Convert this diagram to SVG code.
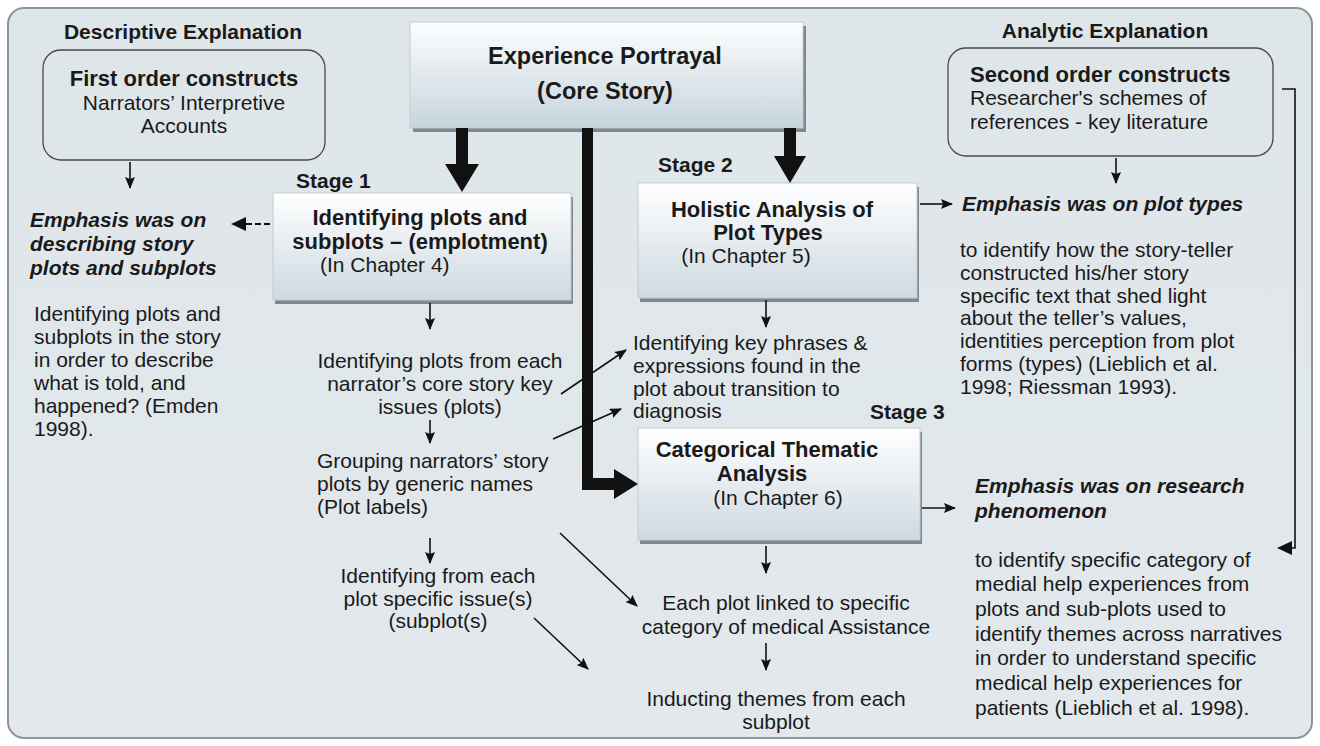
<svg xmlns="http://www.w3.org/2000/svg" width="1320" height="746" viewBox="0 0 1320 746">
<defs>
<linearGradient id="gBox" x1="0" y1="0" x2="0" y2="1">
<stop offset="0" stop-color="#ffffff"/>
<stop offset="1" stop-color="#cdd9e1"/>
</linearGradient>
<linearGradient id="gCore" x1="0" y1="0" x2="0" y2="1">
<stop offset="0" stop-color="#fdfefe"/>
<stop offset="1" stop-color="#c6d4dd"/>
</linearGradient>
<linearGradient id="gBg" x1="0" y1="0" x2="0" y2="1">
<stop offset="0" stop-color="#dfe6ea"/>
<stop offset="1" stop-color="#e2e8ec"/>
</linearGradient>
<marker id="ah" viewBox="0 0 12 10" refX="11" refY="5" markerWidth="12" markerHeight="10" markerUnits="userSpaceOnUse" orient="auto">
<path d="M0,0 L12,5 L0,10 L2,5 z" fill="#111"/>
</marker>
</defs>
<style>
text{font-family:"Liberation Sans",Arial,sans-serif;fill:#1a1a1a;font-size:21px}
.b{font-weight:bold}
.t{font-weight:bold;font-size:22px}
.bi{font-weight:bold;font-style:italic}
.c{text-anchor:middle}
.big{font-size:23.5px;font-weight:bold}
.thin{stroke:#111;stroke-width:1.6;fill:none;marker-end:url(#ah)}
.shadow{fill:#7f878e}
.box{fill:url(#gBox);stroke:#c2cbd1;stroke-width:1}
.rbox{fill:#dfe6ea;stroke:#4a4a4a;stroke-width:1.3}
</style>
<rect x="0" y="0" width="1320" height="746" fill="#ffffff"/>
<rect x="8" y="8" width="1304" height="730" rx="16" fill="url(#gBg)" stroke="#8e9499" stroke-width="2"/>

<g id="descriptive-label"><text class="b c" x="183" y="39">Descriptive Explanation</text></g>
<g id="analytic-label"><text class="b c" x="1105" y="38">Analytic Explanation</text></g>

<g id="first-order">
<rect class="rbox" x="43" y="50" width="282" height="110" rx="18"/>
<text class="t c" x="184" y="86">First order constructs</text>
<text class="c" x="184" y="110">Narrators’ Interpretive</text>
<text class="c" x="184" y="133">Accounts</text>
</g>

<g id="core">
<rect class="shadow" x="413" y="26" width="393" height="106"/>
<rect x="410" y="22" width="393" height="106" fill="url(#gCore)" stroke="#c2cbd1" stroke-width="1"/>
<text class="big c" x="605" y="64">Experience Portrayal</text>
<text class="big c" x="605" y="99">(Core Story)</text>
</g>

<g id="second-order">
<rect class="rbox" x="948" y="48" width="325" height="108" rx="18"/>
<text class="t" x="970" y="82">Second order constructs</text>
<text x="970" y="105">Researcher's schemes of</text>
<text x="970" y="129">references - key literature</text>
</g>

<g id="stage1">
<text class="b" x="296" y="188">Stage 1</text>
<rect class="shadow" x="275" y="197" width="298" height="107"/>
<rect class="box" x="273" y="193" width="298" height="107"/>
<text class="t c" x="420" y="225">Identifying plots and</text>
<text class="t c" x="420" y="249">subplots – (emplotment)</text>
<text x="320" y="272">(In Chapter 4)</text>
</g>

<g id="stage2">
<text class="b" x="658" y="172">Stage 2</text>
<rect class="shadow" x="640" y="187" width="279" height="115"/>
<rect class="box" x="638" y="183" width="279" height="115"/>
<text class="t c" x="772" y="217">Holistic Analysis of</text>
<text class="t c" x="768" y="240">Plot Types</text>
<text class="c" x="746" y="263">(In Chapter 5)</text>
</g>

<g id="stage3">
<text class="b" x="870" y="419">Stage 3</text>
<rect class="shadow" x="640" y="432" width="282" height="112"/>
<rect class="box" x="638" y="428" width="282" height="112"/>
<text class="t c" x="767" y="457">Categorical Thematic</text>
<text class="t c" x="762" y="481">Analysis</text>
<text class="c" x="778" y="505">(In Chapter 6)</text>
</g>

<g id="left-emphasis">
<text class="bi" x="30" y="227">Emphasis was on</text>
<text class="bi" x="30" y="251">describing story</text>
<text class="bi" x="30" y="275">plots and subplots</text>
</g>
<g id="left-desc">
<text x="34" y="321">Identifying plots and</text>
<text x="34" y="344">subplots in the story</text>
<text x="34" y="367">in order to describe</text>
<text x="34" y="390">what is told, and</text>
<text x="34" y="413">happened? (Emden</text>
<text x="34" y="436">1998).</text>
</g>

<g id="plots-from-each">
<text class="c" x="440" y="368">Identifying plots from each</text>
<text class="c" x="440" y="391">narrator’s core story key</text>
<text class="c" x="440" y="414">issues (plots)</text>
</g>
<g id="grouping">
<text x="317" y="468">Grouping narrators’ story</text>
<text x="317" y="491">plots by generic names</text>
<text x="317" y="514">(Plot labels)</text>
</g>
<g id="from-each-plot">
<text class="c" x="438" y="583">Identifying from each</text>
<text class="c" x="438" y="606">plot specific issue(s)</text>
<text class="c" x="438" y="628">(subplot(s)</text>
</g>

<g id="key-phrases">
<text x="633" y="350">Identifying key phrases &amp;</text>
<text x="633" y="373">expressions found in the</text>
<text x="633" y="396">plot about transition to</text>
<text x="633" y="418">diagnosis</text>
</g>

<g id="plot-types">
<text class="bi" x="962" y="211">Emphasis was on plot types</text>
<text x="960" y="257">to identify how the story-teller</text>
<text x="960" y="280">constructed his/her story</text>
<text x="960" y="303">specific text that shed light</text>
<text x="960" y="325">about the teller’s values,</text>
<text x="960" y="348">identities perception from plot</text>
<text x="960" y="371">forms (types) (Lieblich et al.</text>
<text x="960" y="394">1998; Riessman 1993).</text>
</g>

<g id="research-phenomenon">
<text class="bi" x="975" y="493">Emphasis was on research</text>
<text class="bi" x="975" y="518">phenomenon</text>
<text x="975" y="567">to identify specific category of</text>
<text x="975" y="591">medial help experiences from</text>
<text x="975" y="616">plots and sub-plots used to</text>
<text x="975" y="641">identify themes across narratives</text>
<text x="975" y="665">in order to understand specific</text>
<text x="975" y="690">medical help experiences for</text>
<text x="975" y="715">patients (Lieblich et al. 1998).</text>
</g>

<g id="linked">
<text class="c" x="786" y="610">Each plot linked to specific</text>
<text class="c" x="786" y="634">category of medical Assistance</text>
</g>
<g id="inducting">
<text class="c" x="776" y="706">Inducting themes from each</text>
<text class="c" x="776" y="729">subplot</text>
</g>

<g id="connectors">
<path d="M456,128 H468 V164 H479 L462,192 L445,164 H456 Z" fill="#111"/>
<path d="M784,128 H796 V156 H806 L790,183 L774,156 H784 Z" fill="#111"/>
<path d="M582,128 H593 V478 H614 V469 L638,484 L614,499 V490 H582 Z" fill="#111"/>
<line class="thin" x1="130" y1="162" x2="130" y2="188"/>
<line class="thin" x1="1116" y1="158" x2="1116" y2="183"/>
<line class="thin" x1="430" y1="303" x2="430" y2="329"/>
<line class="thin" x1="430" y1="420" x2="430" y2="443"/>
<line class="thin" x1="430" y1="538" x2="430" y2="563"/>
<line class="thin" x1="766" y1="300" x2="766" y2="327"/>
<line class="thin" x1="766" y1="546" x2="766" y2="573"/>
<line class="thin" x1="766" y1="643" x2="766" y2="670"/>
<line class="thin" x1="920" y1="204" x2="952" y2="204"/>
<line class="thin" x1="922" y1="508" x2="955" y2="508"/>
<line class="thin" x1="561" y1="394" x2="626" y2="350"/>
<line class="thin" x1="553" y1="439" x2="621" y2="409"/>
<line class="thin" x1="560" y1="533" x2="637" y2="606"/>
<line class="thin" x1="534" y1="618" x2="588" y2="669"/>
<line x1="270" y1="224" x2="243" y2="224" stroke="#111" stroke-width="1.8" stroke-dasharray="6,3"/>
<path d="M231,224 L246,217 L246,231 Z" fill="#111"/>
<polyline points="1282,89 1295,89 1295,548 1290,548" fill="none" stroke="#111" stroke-width="1.6"/>
<path d="M1277,548 L1292,541 L1292,555 Z" fill="#111"/>
</g>
</svg>
